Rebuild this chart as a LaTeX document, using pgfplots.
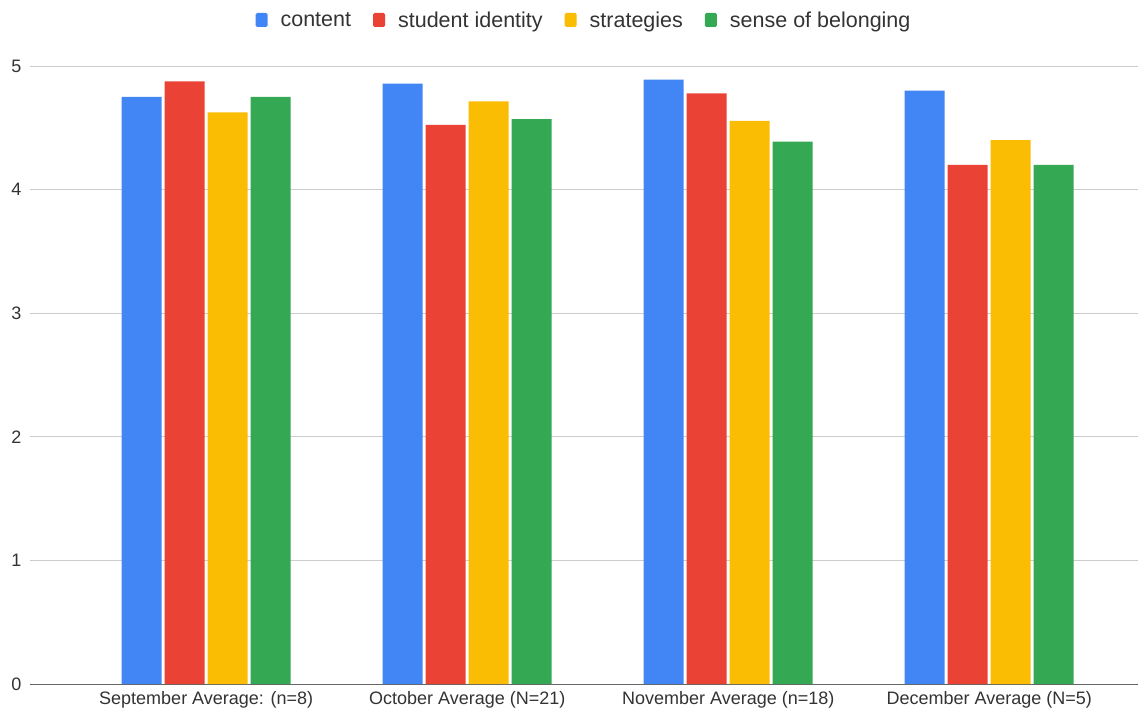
\documentclass[border=0pt]{standalone}
\usepackage{fontspec}
\setmainfont{Liberation Sans}
\usepackage{pgfplots}
\pgfplotsset{compat=1.18}
\definecolor{cblue}{HTML}{4285F4}
\definecolor{cred}{HTML}{EA4335}
\definecolor{cyellow}{HTML}{FBBC04}
\definecolor{cgreen}{HTML}{34A853}
\pgfplotsset{sqlegend/.style={legend image code/.code={\fill[##1,draw=none,rounded corners=1.5pt] (0pt,-7pt) rectangle (12pt,7pt);}}}
\begin{document}
\begin{tikzpicture}
\useasboundingbox (-30pt,-29pt) rectangle (1108pt,684pt);
\begin{axis}[
  at={(0pt,0pt)}, anchor=south west,
  scale only axis, width=1108pt, height=618pt,
  ymin=0, ymax=5, xmin=-0.675, xmax=3.57,
  ybar=3pt, bar width=40pt,
  xtick={0,1,2,3},
  xticklabels={September Average: (n=8), October Average (N=21), November Average (n=18), December Average (N=5)},
  ytick={0,1,2,3,4,5},
  ymajorgrids, grid style={color=black!20, line width=0.8pt},
  axis x line=bottom, axis y line=left,
  x axis line style={-, color=black!60, line width=1pt},
  y axis line style={draw=none},
  major tick length=0pt, tick style={draw=none},
  tick label style={font=\fontsize{18}{20}\selectfont, text=black!80},
  yticklabel style={xshift=-5pt},
  xticklabel style={yshift=-4pt},
  /pgf/number format/assume math mode=true,
  legend style={at={(0.5,1.0745)}, anchor=center, draw=none, fill=none,
    legend columns=4, font=\fontsize{21.5}{23}\selectfont, text=black!80,
    /tikz/every even column/.append style={column sep=20pt},
    /tikz/every odd column/.append style={column sep=11pt}},
  legend cell align=left,
]
\addplot[fill=cblue, draw=none, sqlegend] coordinates {(0,4.75) (1,4.857) (2,4.889) (3,4.8)};
\addplot[fill=cred, draw=none, sqlegend] coordinates {(0,4.875) (1,4.524) (2,4.778) (3,4.2)};
\addplot[fill=cyellow, draw=none, sqlegend] coordinates {(0,4.625) (1,4.714) (2,4.556) (3,4.4)};
\addplot[fill=cgreen, draw=none, sqlegend] coordinates {(0,4.75) (1,4.571) (2,4.389) (3,4.2)};
\legend{content, student identity, strategies, sense of belonging}
\end{axis}
\end{tikzpicture}
\end{document}
